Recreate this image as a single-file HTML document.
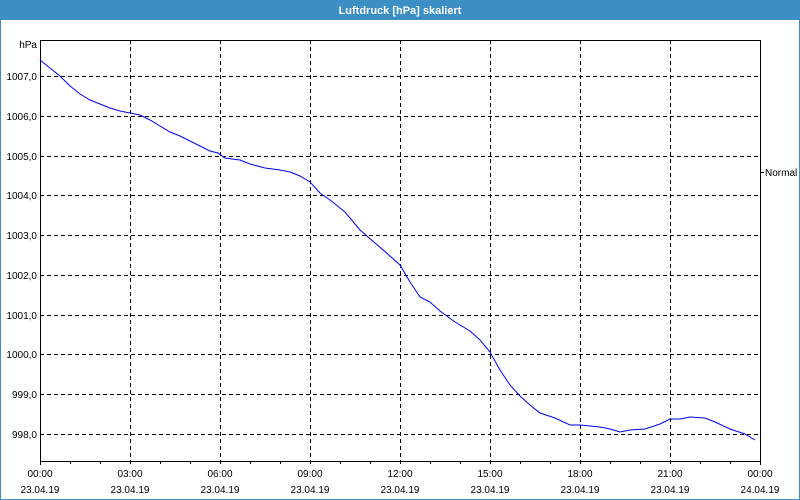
<!DOCTYPE html>
<html><head><meta charset="utf-8"><style>
html,body{margin:0;padding:0;background:#fff}
svg{display:block;font-family:"Liberation Sans",Tahoma,sans-serif}
</style></head><body>
<svg width="800" height="500" viewBox="0 0 800 500" xmlns="http://www.w3.org/2000/svg">
<rect x="0" y="0" width="800" height="500" fill="#fff"/>
<rect x="0" y="0" width="800" height="20" fill="#3c8fc5"/>
<rect x="0.5" y="0.5" width="799" height="499" fill="none" stroke="#3c8fc5"/>
<text x="400" y="14" fill="#fff" font-size="11" font-weight="bold" text-anchor="middle">Luftdruck [hPa] skaliert</text>
<g stroke="#000" stroke-dasharray="4,3" stroke-width="1">
<line x1="130.5" y1="40" x2="130.5" y2="461"/><line x1="220.5" y1="40" x2="220.5" y2="461"/>
<line x1="310.5" y1="40" x2="310.5" y2="461"/><line x1="400.5" y1="40" x2="400.5" y2="461"/>
<line x1="490.5" y1="40" x2="490.5" y2="461"/><line x1="580.5" y1="40" x2="580.5" y2="461"/>
<line x1="670.5" y1="40" x2="670.5" y2="461"/>
<line x1="40" y1="76.5" x2="760" y2="76.5"/><line x1="40" y1="116.5" x2="760" y2="116.5"/>
<line x1="40" y1="156.5" x2="760" y2="156.5"/><line x1="40" y1="195.5" x2="760" y2="195.5"/>
<line x1="40" y1="235.5" x2="760" y2="235.5"/><line x1="40" y1="275.5" x2="760" y2="275.5"/>
<line x1="40" y1="315.5" x2="760" y2="315.5"/><line x1="40" y1="354.5" x2="760" y2="354.5"/>
<line x1="40" y1="394.5" x2="760" y2="394.5"/><line x1="40" y1="434.5" x2="760" y2="434.5"/>
</g>
<g stroke="#000" stroke-width="1">
<line x1="40.5" y1="40" x2="40.5" y2="465"/>
<line x1="760.5" y1="40" x2="760.5" y2="465"/>
<line x1="40" y1="40.5" x2="761" y2="40.5"/>
<line x1="40" y1="461.5" x2="761" y2="461.5"/>
<line x1="760" y1="172.5" x2="764" y2="172.5"/>
<path d="M70.5 461v3M100.5 461v3M130.5 461v3M160.5 461v3M190.5 461v3M220.5 461v3M250.5 461v3M280.5 461v3M310.5 461v3M340.5 461v3M370.5 461v3M400.5 461v3M430.5 461v3M460.5 461v3M490.5 461v3M520.5 461v3M550.5 461v3M580.5 461v3M610.5 461v3M640.5 461v3M670.5 461v3M700.5 461v3M730.5 461v3"/>
</g>
<polyline fill="none" stroke="#0000ee" stroke-width="1" points="40,60 50,68 60,76 70,86 80,94 90,100 100,104 110,108 120,111 130,113 140,115 150,120 160,126 170,132 180,136 190,141 200,146 210,151 218,153 225,158 240,160 250,164 265,168 280,170 290,172 300,176 310,182 320,193 330,200 345,212 360,230 375,243 390,256 400,265 410,282 420,297 430,302 440,311 455,322 470,331 480,340 490,352 500,370 510,385 520,396 530,405 540,413 555,418 570,425 580,425 600,427 610,429 620,432 630,430 645,429 660,424 670,419 680,419 690,417 705,418 715,422 730,429 745,434 755,440"/>
<g font-size="10" fill="#000" text-anchor="end">
<text x="37" y="48">hPa</text>
<text x="37" y="80">1007,0</text><text x="37" y="120">1006,0</text><text x="37" y="160">1005,0</text>
<text x="37" y="199">1004,0</text><text x="37" y="239">1003,0</text><text x="37" y="279">1002,0</text>
<text x="37" y="319">1001,0</text><text x="37" y="358">1000,0</text><text x="37" y="398">999,0</text>
<text x="37" y="438">998,0</text>
</g>
<text x="765" y="176" font-size="10" fill="#000">Normal</text>
<g font-size="10" fill="#000" text-anchor="middle">
<text x="40" y="477">00:00</text><text x="40" y="493">23.04.19</text>
<text x="130" y="477">03:00</text><text x="130" y="493">23.04.19</text>
<text x="220" y="477">06:00</text><text x="220" y="493">23.04.19</text>
<text x="310" y="477">09:00</text><text x="310" y="493">23.04.19</text>
<text x="400" y="477">12:00</text><text x="400" y="493">23.04.19</text>
<text x="490" y="477">15:00</text><text x="490" y="493">23.04.19</text>
<text x="580" y="477">18:00</text><text x="580" y="493">23.04.19</text>
<text x="670" y="477">21:00</text><text x="670" y="493">23.04.19</text>
<text x="760" y="477">00:00</text><text x="760" y="493">24.04.19</text>
</g>
</svg>
</body></html>
